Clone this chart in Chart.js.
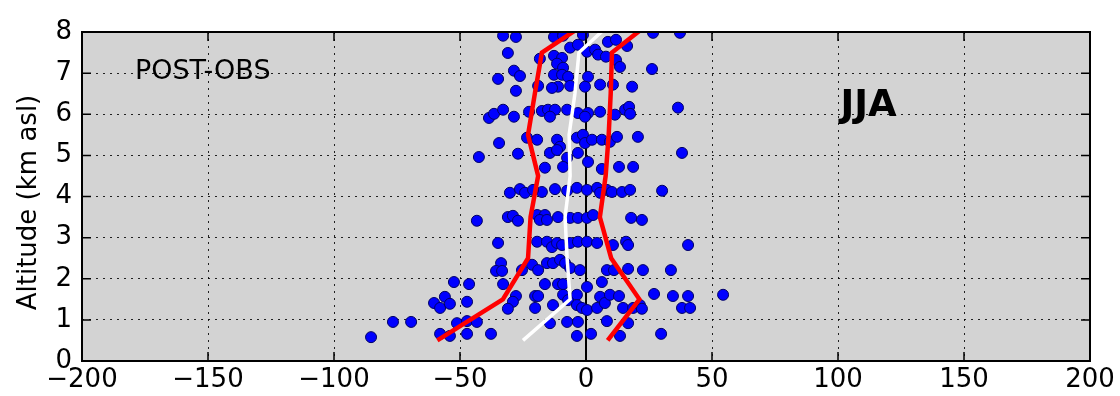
<!DOCTYPE html>
<html>
<head>
<meta charset="utf-8">
<script src="https://cdn.jsdelivr.net/npm/chart.js@4/dist/chart.umd.min.js"></script>
<style>
  html, body { margin: 0; padding: 0; background: #fff; }
</style>
</head>
<body>
<canvas id="chart" width="1120" height="396"></canvas>
<script>
const xTicks = [-200, -150, -100, -50, 0, 50, 100, 150, 200];
const yTicks = [0, 1, 2, 3, 4, 5, 6, 7, 8];

// profile levels (km asl) and the three profiles
const levels = [0.5, 1.5, 2.5, 3.5, 4.5, 5.5, 6.5, 7.5, 8.5];
const lowProfile = [-59, -33, -23, -22, -19, -23, -20.3, -17.5, 7];
const highProfile = [8.6, 21.2, 10, 5.5, 7.8, 9, 9.8, 10.3, 31];
const medianProfile = [-25, -6.3, -7.5, -8.3, -6.3, -6.7, -4.4, -2.8, 15];

// individual observations
const obsX = [
  -32.9, -27.8, -12.7, -9.1, -1.2, 26.6, 37.3,
  -31.0, -18.3, -12.7, -9.5, -6.3, -3.2, 0.4, 3.6, 4.8, 8.7, 11.9, 16.3, 7.9, 11.9, 13.5, -11.5, -9.1, 26.2,
  -28.6, -26.2, -34.9, -12.7, -9.5, -7.1, 0.8, -0.4, -6.3, -11.1, -13.5, -19.0, -27.8, 5.6, 10.7, 18.3,
  -38.5, -36.5, -32.9, -28.6, -22.6, -17.5, -15.1, -12.3, -14.3, -7.5, -3.2, 0.8, -0.4, 5.6, 11.5, 15.5, 17.1, 17.5, 36.5,
  -34.5, -42.5, -27.0, -23.4, -19.4, -11.5, -10.3, -3.6, -1.2, -0.4, 2.4, 6.3, 9.5, 12.3, 20.6, -14.3, -11.5, -7.5, -9.1, -16.3, -3.2, 0.8, 6.3, 13.1, 18.7, 38.1,
  -30.2, -26.2, -24.2, -17.5, -12.3, -7.5, -3.6, 0.4, 4.4, 8.3, 10.3, 14.3, 17.5, 30.2, 5.6, -21.0,
  -43.3, -31.0, -29.0, -27.0, -19.4, -16.3, -18.3, -15.5, -11.1, -6.3, -3.2, 0.4, 2.8, 17.9, 22.2,
  -34.9, -19.4, -15.5, -13.5, -11.5, -9.5, -6.3, -3.2, 0.4, 4.4, 10.7, 15.9, 16.7, 40.5,
  -33.7, -35.7, -33.3, -25.4, -21.4, -19.0, -15.5, -13.1, -10.3, -8.3, -6.3, -2.4, 8.3, 11.1, 16.7, 22.6, 33.7,
  -52.4, -46.4, -32.9, -16.3, -11.1, -9.1, 0.4, 6.3,
  -56.0, -60.3, -57.9, -54.0, -47.2, -27.8, -29.0, -31.0, -20.2, -19.0, -20.2, -13.1, -9.1, -7.1, -3.6, -3.6, -1.6, 0.4, 4.4, 5.6, 7.5, 9.5, 13.1, 14.7, 18.7, 21.4, 22.2, 27.0, 34.5, 40.5, 38.1, 41.3, 54.4,
  -76.6, -69.4, -51.2, -47.2, -43.3, -14.3, -7.5, -3.2, 8.3, 16.7,
  -85.3, -57.9, -54.0, -47.2, -37.7, -3.6, 2.0, 13.5, 29.8
];
const obsY = [
  7.91, 7.88, 7.88, 7.91, 7.93, 7.98, 7.98,
  7.49, 7.35, 7.42, 7.37, 7.62, 7.69, 7.52, 7.57, 7.45, 7.76, 7.81, 7.66, 7.40, 7.32, 7.15, 7.23, 7.13, 7.10,
  7.06, 6.93, 6.86, 6.96, 6.96, 6.91, 6.91, 6.67, 6.69, 6.67, 6.64, 6.69, 6.57, 6.72, 6.72, 6.67,
  5.91, 6.01, 6.11, 5.94, 6.06, 6.08, 6.11, 6.11, 5.94, 6.11, 6.03, 6.03, 5.94, 6.06, 5.99, 6.11, 6.18, 6.01, 6.16,
  5.30, 4.96, 5.04, 5.43, 5.38, 5.38, 5.21, 5.43, 5.50, 5.30, 5.38, 5.38, 5.33, 5.45, 5.45, 5.06, 5.13, 4.94, 4.72, 4.70, 5.06, 4.84, 4.67, 4.72, 4.72, 5.06,
  4.09, 4.18, 4.09, 4.11, 4.18, 4.14, 4.21, 4.16, 4.21, 4.16, 4.11, 4.11, 4.16, 4.14, 4.09, 4.16,
  3.41, 3.50, 3.53, 3.41, 3.55, 3.55, 3.43, 3.43, 3.50, 3.48, 3.48, 3.48, 3.55, 3.48, 3.43,
  2.87, 2.90, 2.90, 2.77, 2.87, 2.82, 2.87, 2.90, 2.90, 2.87, 2.82, 2.90, 2.82, 2.82,
  2.38, 2.19, 2.19, 2.21, 2.34, 2.21, 2.38, 2.38, 2.46, 2.38, 2.26, 2.21, 2.21, 2.21, 2.24, 2.21, 2.21,
  1.92, 1.87, 1.87, 1.87, 1.87, 1.87, 1.80, 1.92,
  1.56, 1.41, 1.29, 1.39, 1.44, 1.58, 1.44, 1.27, 1.58, 1.58, 1.29, 1.36, 1.61, 1.48, 1.61, 1.36, 1.29, 1.24, 1.29, 1.56, 1.41, 1.61, 1.58, 1.29, 1.29, 1.36, 1.27, 1.63, 1.58, 1.58, 1.29, 1.29, 1.61,
  0.95, 0.95, 0.92, 0.97, 0.95, 0.92, 0.95, 0.95, 0.97, 0.92,
  0.58, 0.66, 0.61, 0.66, 0.66, 0.61, 0.66, 0.61, 0.66
];

const zeroLine = [{ x: 0, y: 0 }, { x: 0, y: 8 }];
const FONT = "DejaVu Sans";

const pts = obsX.map((x, i) => ({ x, y: obsY[i] }));
const prof = arr => arr.map((x, i) => ({ x, y: levels[i] }));
const minus = v => String(v).replace("-", "\u2212");

// grey axes background, frame, inward ticks and the labels
const framePlugin = {
  id: "frame",
  beforeDraw(chart) {
    const { ctx, chartArea: a } = chart;
    ctx.save();
    ctx.fillStyle = "#d3d3d3";
    ctx.fillRect(a.left, a.top, a.right - a.left, a.bottom - a.top);
    ctx.restore();
  },
  afterDatasetsDraw(chart) {
    const { ctx, chartArea: a, scales } = chart;
    const sx = scales.x, sy = scales.y;
    ctx.save();
    ctx.strokeStyle = "#000";
    ctx.lineWidth = 1.5;
    ctx.beginPath();
    for (const v of xTicks) {
      const px = sx.getPixelForValue(v);
      ctx.moveTo(px, a.top); ctx.lineTo(px, a.top + 9);
      ctx.moveTo(px, a.bottom); ctx.lineTo(px, a.bottom - 9);
    }
    for (const v of yTicks) {
      const py = sy.getPixelForValue(v);
      ctx.moveTo(a.left, py); ctx.lineTo(a.left + 9, py);
      ctx.moveTo(a.right, py); ctx.lineTo(a.right - 9, py);
    }
    ctx.stroke();
    ctx.lineWidth = 2;
    ctx.strokeRect(a.left, a.top, a.right - a.left, a.bottom - a.top);

    ctx.fillStyle = "#000";
    ctx.font = "27px '" + FONT + "'";
    ctx.textAlign = "left";
    ctx.textBaseline = "middle";
    ctx.fillText("POST-OBS", sx.getPixelForValue(-179), sy.getPixelForValue(7.02));
    ctx.font = "bold 37px '" + FONT + "'";
    ctx.textBaseline = "alphabetic";
    ctx.fillText("JJA", sx.getPixelForValue(101), sy.getPixelForValue(5.95));

    // y axis title
    ctx.font = "26px '" + FONT + "'";
    ctx.textAlign = "center";
    ctx.textBaseline = "middle";
    ctx.translate(29, (a.top + a.bottom) / 2 + 6);
    ctx.rotate(-Math.PI / 2);
    ctx.fillText("Altitude (km asl)", 0, 0);
    ctx.restore();
  }
};

const gridOpts = { color: "rgba(0,0,0,0.85)", lineWidth: 1, drawTicks: false };
const borderOpts = { display: false, dash: [2, 5] };

new Chart(document.getElementById("chart"), {
  type: "scatter",
  data: {
    datasets: [
      {
        data: prof(lowProfile), showLine: true, borderColor: "#ff0000", borderWidth: 4.5,
        pointRadius: 0, clip: 0, order: 1
      },
      {
        data: prof(highProfile), showLine: true, borderColor: "#ff0000", borderWidth: 4.5,
        pointRadius: 0, clip: 0, order: 1
      },
      {
        data: prof(medianProfile), showLine: true, borderColor: "#ffffff", borderWidth: 3.5,
        pointRadius: 0, clip: 0, order: 2
      },
      {
        data: pts, pointRadius: 5.5, backgroundColor: "#0000ff", borderColor: "#000066",
        borderWidth: 1, clip: 0, order: 3
      },
      {
        data: zeroLine, showLine: true, borderColor: "#000", borderWidth: 2,
        pointRadius: 0, clip: 0, order: 4
      }
    ]
  },
  options: {
    responsive: false,
    animation: false,
    devicePixelRatio: 1,
    layout: { padding: { top: 32, right: 30, left: 0, bottom: 0 } },
    plugins: { legend: { display: false }, tooltip: { enabled: false } },
    scales: {
      x: {
        type: "linear", min: -200, max: 200,
        afterBuildTicks: s => { s.ticks = xTicks.map(v => ({ value: v })); },
        afterFit: s => { s.height = 35; },
        grid: gridOpts, border: borderOpts,
        ticks: {
          color: "#000", font: { family: FONT, size: 26 }, padding: 4,
          maxRotation: 0, autoSkip: false, callback: v => minus(v)
        }
      },
      y: {
        type: "linear", min: 0, max: 8,
        afterBuildTicks: s => { s.ticks = yTicks.map(v => ({ value: v })); },
        afterFit: s => { s.width = 82; },
        grid: gridOpts, border: borderOpts,
        ticks: {
          color: "#000", font: { family: FONT, size: 26 }, padding: 10,
          autoSkip: false, callback: v => minus(v)
        }
      }
    }
  },
  plugins: [framePlugin]
});
</script>
</body>
</html>
